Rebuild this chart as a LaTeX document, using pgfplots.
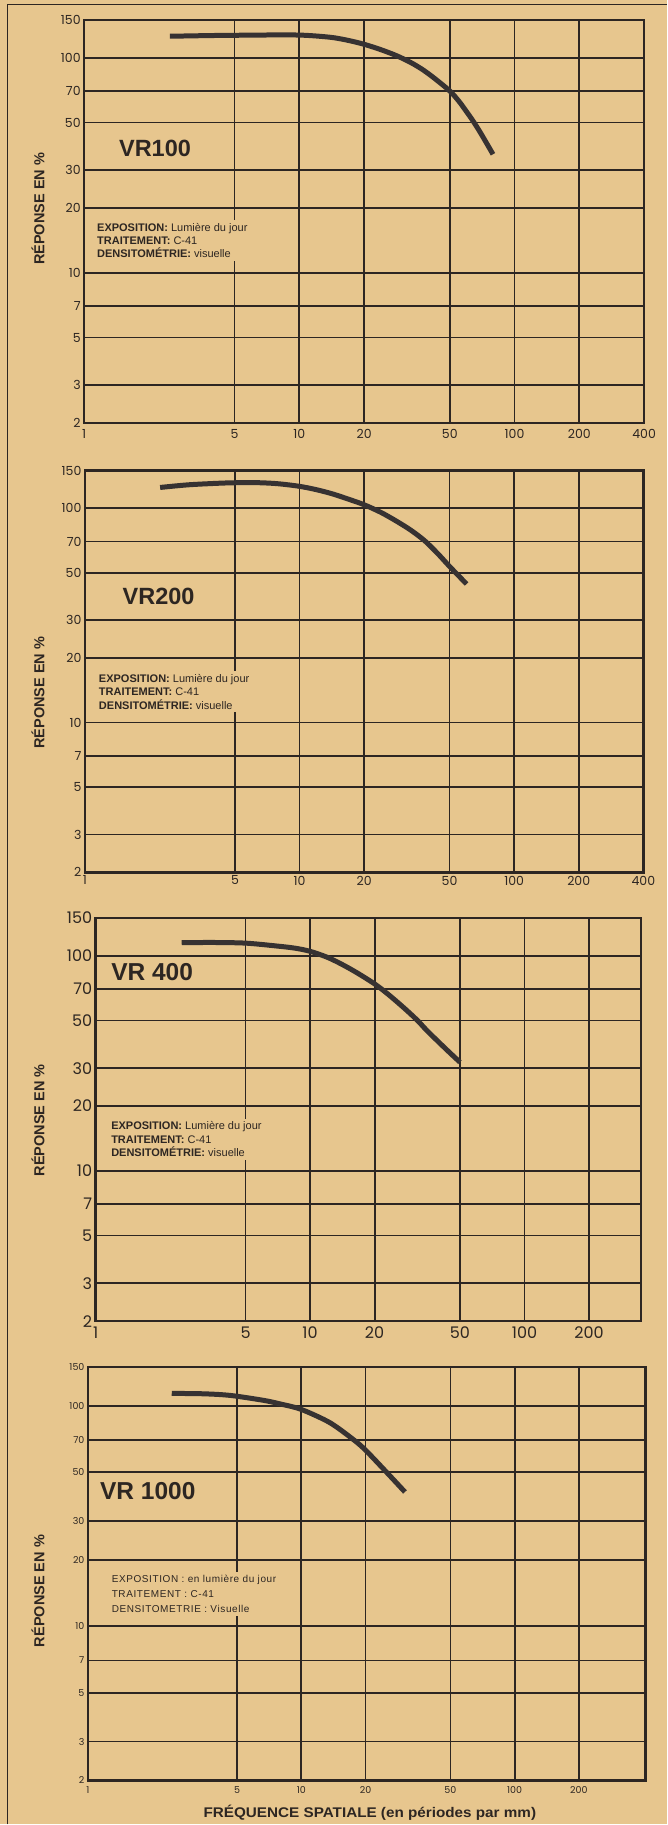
\documentclass[border=0pt]{standalone}
\usepackage{graphicx}
\usepackage{pgfplots}
\pgfplotsset{compat=1.18}
\usepackage{fontspec}
\setmainfont{Liberation Sans}
\newfontfamily\tickfont{Poppins}
\definecolor{bg}{RGB}{231,198,142}
\definecolor{ink}{RGB}{45,38,34}
\definecolor{curvecol}{RGB}{55,50,50}

\tikzset{
  mtfcurve/.style={curvecol, line width=5pt, smooth, tension=0.5, line cap=butt},
  mtfannot/.style={anchor=north west, align=left, inner sep=3pt, xshift=-3pt, yshift=3pt,
    fill=bg, text=ink, font=\fontsize{11}{13.3}\selectfont},
  mtfvr/.style={anchor=west, inner sep=0pt, text=ink, font=\bfseries\fontsize{23.5}{26}\selectfont},
}

\begin{document}
\begin{tikzpicture}
\fill[bg] (0pt,0pt) rectangle (667pt,1825pt);
\draw[ink, line width=1.5pt] (7.5pt,0pt) -- (7.5pt,1820.5pt) -- (667pt,1820.5pt);

% ---------- Panel 1: VR100
\begin{loglogaxis}[scale only axis, anchor=south west, at={(84.2pt,1401.7pt)}, width=560.2pt, height=403.3pt,
  xmin=1, xmax=400, ymin=2, ymax=150,
  ytick={2,3,5,7,10,20,30,50,70,100,150}, yticklabels={2,3,5,7,10,20,30,50,70,100,150},
  xtick={1,5,10,20,50,100,200,400}, xticklabels={1,5,10,20,50,100,200,400},
  major tick length=0pt, grid=major,
  major grid style={ink, line width=1.8pt}, axis line style={ink, line width=2.4pt},
  tick label style={text=ink, font=\tickfont\fontsize{12.5}{14}\selectfont},
  xticklabel style={yshift=-3pt}]
\addplot[mtfcurve] coordinates {(2.5,126) (4,127) (6,127.5) (8,127.8) (10,127.6) (12,126.3) (14.4,124.1) (17,120.3) (20,115.6) (24,109) (28.3,102.3) (33,95) (37.6,87.8) (43,79.5) (50,70.1) (55,63) (59.8,56.2) (64,51) (68.9,45.4) (74,40.2) (79.4,35.6)};
\node[mtfvr] at (axis cs:1.45,38.1) {VR100};
\node[mtfannot] at (axis cs:1.147,17.1) {\textbf{EXPOSITION:} Lumière du jour\\\textbf{TRAITEMENT:} C-41\\\textbf{DENSITOMÉTRIE:} visuelle};
\end{loglogaxis}

% ---------- Panel 2: VR200
\begin{loglogaxis}[scale only axis, anchor=south west, at={(85pt,952.3pt)}, width=558.6pt, height=402pt,
  xmin=1, xmax=400, ymin=2, ymax=150,
  ytick={2,3,5,7,10,20,30,50,70,100,150}, yticklabels={2,3,5,7,10,20,30,50,70,100,150},
  xtick={1,5,10,20,50,100,200,400}, xticklabels={1,5,10,20,50,100,200,400},
  major tick length=0pt, grid=major,
  major grid style={ink, line width=1.8pt}, axis line style={ink, line width=2.4pt},
  tick label style={text=ink, font=\tickfont\fontsize{12.5}{14}\selectfont}]
\addplot[mtfcurve] coordinates {(2.24,125) (3,128.5) (4,130.5) (5,131.5) (6.5,131.5) (8,130) (10,126.5) (12,122) (14.3,116.5) (17,110) (20,103.8) (24,95.5) (28.3,87) (33,79) (38.3,70.5) (44,61.5) (50,53.5) (55,48.5) (60,44.3)};
\node[mtfvr] at (axis cs:1.495,38.8) {VR200};
\node[mtfannot] at (axis cs:1.16,16.8) {\textbf{EXPOSITION:} Lumière du jour\\\textbf{TRAITEMENT:} C-41\\\textbf{DENSITOMÉTRIE:} visuelle};
\end{loglogaxis}

% ---------- Panel 3: VR 400
\begin{loglogaxis}[scale only axis, anchor=south west, at={(95.7pt,503.3pt)}, width=545.7pt, height=403.4pt,
  xmin=1, xmax=350, ymin=2, ymax=150,
  ytick={2,3,5,7,10,20,30,50,70,100,150}, yticklabels={2,3,5,7,10,20,30,50,70,100,150},
  xtick={1,5,10,20,50,100,200}, xticklabels={1,5,10,20,50,100,200},
  major tick length=0pt, grid=major,
  major grid style={ink, line width=1.8pt}, axis line style={ink, line width=2.4pt},
  tick label style={text=ink, font=\tickfont\fontsize{16}{18}\selectfont},
  xticklabel style={yshift=-2pt}]
\addplot[mtfcurve] coordinates {(2.52,115) (3.5,115.3) (5,114.5) (7,111) (8.5,108.5) (10,104.9) (12,98.5) (14,91.5) (16.5,83.5) (20,74) (23,66.5) (27,58) (31.4,50.5) (35,45) (40,39.5) (45,35.3) (50,32)};
\node[mtfvr, font=\bfseries\fontsize{24.5}{27}\selectfont] at (axis cs:1.18,84.2) {VR 400};
\node[mtfannot] at (axis cs:1.18,16.95) {\textbf{EXPOSITION:} Lumière du jour\\\textbf{TRAITEMENT:} C-41\\\textbf{DENSITOMÉTRIE:} visuelle};
\end{loglogaxis}

% ---------- Panel 4: VR 1000
\begin{loglogaxis}[scale only axis, anchor=south west, at={(88pt,43.9pt)}, width=557.7pt, height=413.4pt,
  xmin=1, xmax=410, ymin=2, ymax=150,
  ytick={2,3,5,7,10,20,30,50,70,100,150}, yticklabels={2,3,5,7,10,20,30,50,70,100,150},
  xtick={1,5,10,20,50,100,200}, xticklabels={1,5,10,20,50,100,200},
  major tick length=0pt, grid=major,
  major grid style={ink, line width=1.8pt}, axis line style={ink, line width=2.4pt},
  tick label style={text=ink, font=\tickfont\fontsize{9.5}{11}\selectfont},
  xticklabel style={yshift=-3pt}]
\addplot[mtfcurve] coordinates {(2.47,114) (3.5,113.5) (4.65,111.6) (6.66,106) (8,102) (10,96.4) (13.6,84) (17.5,70.5) (20,63) (25.1,50) (30.6,40.7)};
\node[mtfvr, font=\bfseries\fontsize{24.5}{27}\selectfont] at (axis cs:1.138,41.1) {VR 1000};
\node[mtfannot, font=\addfontfeatures{LetterSpace=6}\fontsize{10}{15}\selectfont] at (axis cs:1.29,17.1) {EXPOSITION : en lumière du jour\\TRAITEMENT : C-41\\DENSITOMETRIE : Visuelle};
\end{loglogaxis}

% ---------- y labels and x label
\foreach \yy in {209,693,1120.8,1591.7}{
  \node[rotate=90, text=ink, font=\bfseries\fontsize{14.5}{16}\selectfont] at (38pt,1825pt-\yy pt) {RÉPONSE EN \%};
}
\node[text=ink, font=\bfseries\fontsize{14}{16}\selectfont] at (370pt,12pt) {\scalebox{1.09}[1]{FRÉQUENCE SPATIALE (en périodes par mm)}};
\end{tikzpicture}
\end{document}
